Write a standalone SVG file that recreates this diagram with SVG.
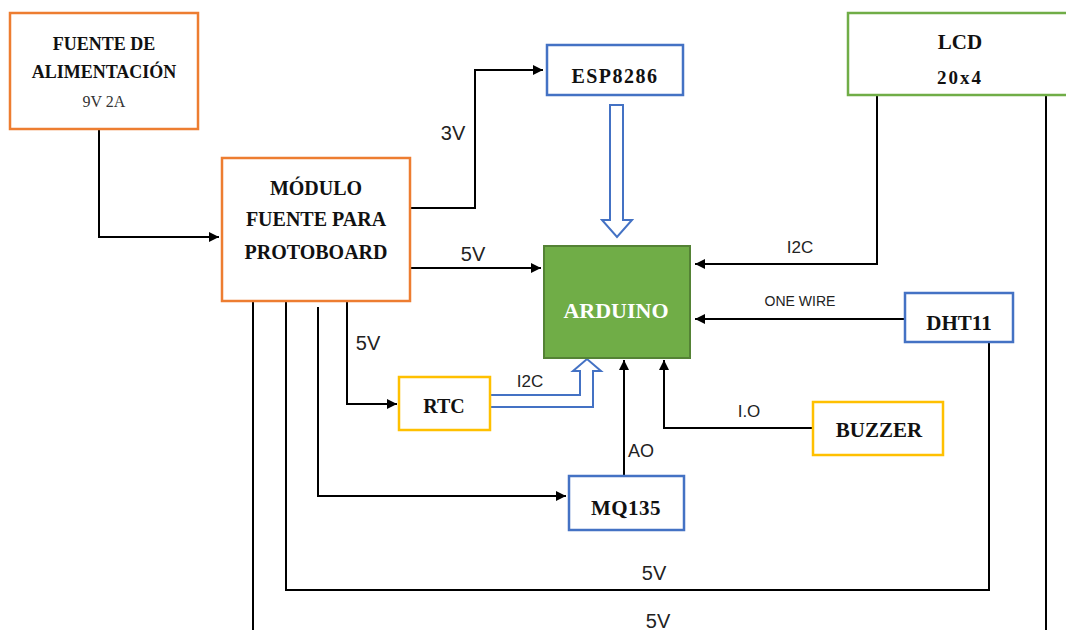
<svg xmlns="http://www.w3.org/2000/svg" width="1066" height="630" viewBox="0 0 1066 630">
<defs>
<style>
.box{fill:#fff;stroke-width:2.5}
.or{stroke:#ED7D31}.bl{stroke:#4472C4}.gr{stroke:#70AD47}.ye{stroke:#FFC000}
.t{font-family:"Liberation Serif",serif;font-weight:bold;fill:#111;text-anchor:middle}
.n{font-family:"Liberation Serif",serif;fill:#333;text-anchor:middle}
.lbl{font-family:"Liberation Sans",Arial,sans-serif;fill:#222;text-anchor:middle}
.ln{fill:none;stroke:#000;stroke-width:2}
.hol{fill:#fff;stroke:#4472C4;stroke-width:2}
</style>
<marker id="ah" viewBox="0 0 10 10" refX="10" refY="5" markerWidth="5" markerHeight="5" orient="auto" markerUnits="strokeWidth">
<path d="M0,0 L10,5 L0,10 z" fill="#000"/>
</marker>
</defs>
<rect width="1066" height="630" fill="#fff"/>

<g id="connectors">
<polyline class="ln" points="99,129 99,237 219,237" marker-end="url(#ah)"/>
<polyline class="ln" points="410,208 475,208 475,70 543,70" marker-end="url(#ah)"/>
<line class="ln" x1="410" y1="268" x2="541" y2="268" marker-end="url(#ah)"/>
<polyline class="ln" points="877,95 877,264 695,264" marker-end="url(#ah)"/>
<line class="ln" x1="905" y1="319" x2="695" y2="319" marker-end="url(#ah)"/>
<polyline class="ln" points="989,342 989,590 286,590 286,301"/>
<line class="ln" x1="253" y1="301" x2="253" y2="630"/>
<line class="ln" x1="1046" y1="95" x2="1046" y2="630"/>
<polyline class="ln" points="318,307 318,496 566,496" marker-end="url(#ah)"/>
<polyline class="ln" points="347,301 347,404 397,404" marker-end="url(#ah)"/>
<line class="ln" x1="624" y1="476" x2="624" y2="360" marker-end="url(#ah)"/>
<polyline class="ln" points="813,428 664,428 664,360" marker-end="url(#ah)"/>
<polygon class="hol" points="610,105 623,105 623,220 632,220 617,237 602,220 610,220"/>
<polygon class="hol" points="490,395 580,395 580,371 573,371 587,359 601,371 593,371 593,407 490,407"/>
<text class="lbl" x="453" y="140" font-size="20">3V</text>
<text class="lbl" x="473" y="261" font-size="20">5V</text>
<text class="lbl" x="368" y="350" font-size="20">5V</text>
<text class="lbl" x="800" y="253" font-size="17">I2C</text>
<text class="lbl" x="800" y="306" font-size="14">ONE WIRE</text>
<text class="lbl" x="530" y="387" font-size="17">I2C</text>
<text class="lbl" x="749" y="417" font-size="17">I.O</text>
<text class="lbl" x="641" y="457" font-size="18">AO</text>
<text class="lbl" x="654" y="580" font-size="20">5V</text>
<text class="lbl" x="658" y="628" font-size="20">5V</text>
</g>

<g id="fuente">
<rect class="box or" x="10" y="13" width="188" height="116"/>
<text class="t" x="104" y="50" font-size="18">FUENTE DE</text>
<text class="t" x="104" y="78" font-size="18">ALIMENTACIÓN</text>
<text class="n" x="104" y="107" font-size="16">9V 2A</text>
</g>

<g id="modulo">
<rect class="box or" x="222" y="158" width="188" height="143"/>
<text class="t" x="316" y="195" font-size="20">MÓDULO</text>
<text class="t" x="316" y="226" font-size="20">FUENTE PARA</text>
<text class="t" x="316" y="259" font-size="20">PROTOBOARD</text>
</g>

<g id="esp">
<rect class="box bl" x="547" y="45" width="136" height="50"/>
<text class="t" x="615" y="83" font-size="20" letter-spacing="1.5">ESP8286</text>
</g>

<g id="lcd">
<rect class="box gr" x="848" y="13" width="230" height="82"/>
<text class="t" x="960" y="49" font-size="21">LCD</text>
<text class="t" x="960" y="84" font-size="19" letter-spacing="2">20x4</text>
</g>

<g id="arduino">
<rect x="544" y="246" width="146" height="112" fill="#70AD47" stroke="#548235" stroke-width="2"/>
<text class="t" x="616" y="318" font-size="22" style="fill:#fff">ARDUINO</text>
</g>

<g id="dht11">
<rect class="box bl" x="905" y="293" width="108" height="49"/>
<text class="t" x="959" y="330" font-size="21">DHT11</text>
</g>

<g id="rtc">
<rect class="box ye" x="399" y="377" width="91" height="53"/>
<text class="t" x="444" y="413" font-size="20">RTC</text>
</g>

<g id="buzzer">
<rect class="box ye" x="813" y="402" width="130" height="53"/>
<text class="t" x="879" y="437" font-size="21">BUZZER</text>
</g>

<g id="mq135">
<rect class="box bl" x="569" y="476" width="115" height="54"/>
<text class="t" x="626" y="515" font-size="21" letter-spacing="0.5">MQ135</text>
</g>
</svg>
